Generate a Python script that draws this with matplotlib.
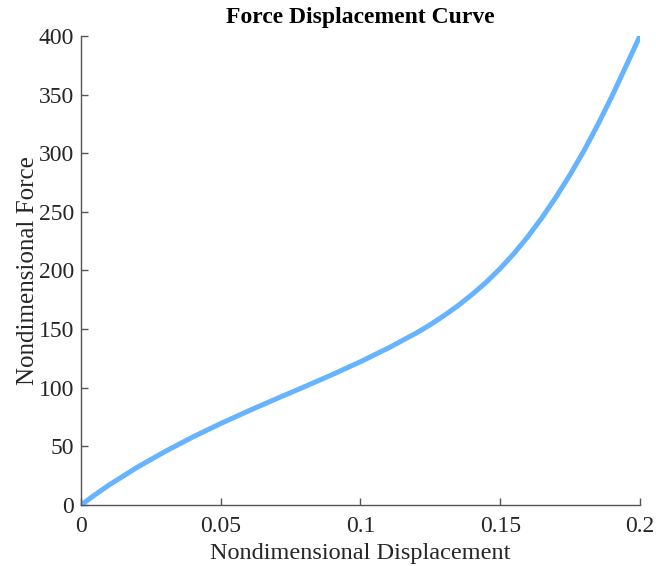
import matplotlib.pyplot as plt

# Values
displacement = [0, 0.005, 0.01, 0.02, 0.03, 0.04, 0.05, 0.06, 0.07, 0.08, 0.09, 0.1,
                0.11, 0.12, 0.125, 0.13, 0.135, 0.14, 0.145, 0.15, 0.155, 0.16,
                0.165, 0.17, 0.175, 0.18, 0.185, 0.19, 0.195, 0.2]
force = [0, 8.7, 17, 32, 45.5, 58, 69.5, 80.3, 90.7, 100.9, 111.3, 122.2,
         133.9, 146.7, 153.8, 161.7, 170.2, 179.7, 190, 201.7, 214.7, 229.2,
         245.2, 262.7, 281.7, 302.2, 324.7, 348.7, 374.2, 400]

x_ticks = [0, 0.05, 0.1, 0.15, 0.2]
x_labels = ["0", "0.05", "0.1", "0.15", "0.2"]
y_ticks = [0, 50, 100, 150, 200, 250, 300, 350, 400]

plt.rcParams['font.family'] = ['Liberation Serif', 'DejaVu Serif']

fig = plt.figure(figsize=(6.56, 5.66), dpi=100)
ax = fig.add_axes([0.1235, 0.1078, 0.852, 0.8286])

ax.plot(displacement, force, color='#66b3ff', linewidth=3.6,
        solid_capstyle='butt', solid_joinstyle='round')

ax.set_xlim(0, 0.2)
ax.set_ylim(0, 400)
ax.set_xticks(x_ticks)
ax.set_xticklabels(x_labels)
ax.set_yticks(y_ticks)

for side in ['top', 'right']:
    ax.spines[side].set_visible(False)
for side in ['left', 'bottom']:
    ax.spines[side].set_color('#555555')
    ax.spines[side].set_linewidth(1.0)

ax.tick_params(direction='in', length=5, width=1, colors='#555555',
               labelsize=17, labelcolor='#262626', pad=5)
ax.tick_params(axis='x', pad=8)

ax.set_title("Force Displacement Curve", fontsize=17, fontweight='bold', pad=9)
ax.set_xlabel("Nondimensional Displacement", fontsize=17.5, color='#262626', labelpad=4)
ax.set_ylabel("Nondimensional Force", fontsize=18, color='#262626', labelpad=0)

fig.savefig("out.png", dpi=100)
